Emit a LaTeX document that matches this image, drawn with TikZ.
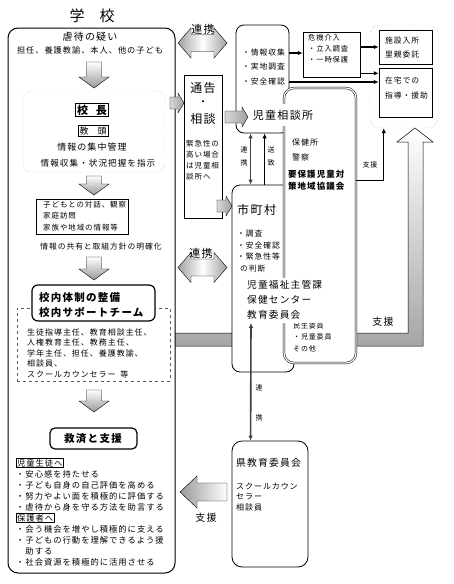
\documentclass[tikz,border=0pt]{standalone}
\usepackage{fontspec}
\setmainfont{Noto Sans CJK JP}[LetterSpace=12]
\usetikzlibrary{arrows.meta,fit}
\newcommand{\fsz}[2]{\fontsize{#1pt}{#2pt}\selectfont}

\tikzset{
  pics/downarr/.style={code={
    \path[draw,line width=0.4pt,top color=white,bottom color=gray!80]
      (-7.5,0) -- (7.5,0) -- (7.5,#1-11) -- (15,#1-11) -- (0,#1)
      -- (-15,#1-11) -- (-7.5,#1-11) -- cycle;}},
  pics/rarr/.style={code={
    \path[draw,line width=0.4pt,left color=gray!30,right color=gray!75]
      (0,-6) -- (#1-6,-6) -- (#1-6,-10) -- (#1,0) -- (#1-6,10)
      -- (#1-6,6) -- (0,6) -- cycle;}},
  pics/dblarr/.style={code={
    \path[draw,line width=0.4pt,left color=gray!75,right color=gray!75,middle color=white]
      (0,0) -- (13,-15) -- (13,-8.5) -- (36,-8.5) -- (36,-15) -- (49,0)
      -- (36,15) -- (36,8.5) -- (13,8.5) -- (13,15) -- cycle;}},
  pics/larr/.style={code={
    \path[draw,line width=0.4pt,left color=gray!80,right color=white]
      (0,0) -- (17,-16) -- (17,-9) -- (47,-9) -- (47,9) -- (17,9)
      -- (17,16) -- cycle;}}
}

\begin{document}
\begin{tikzpicture}[x=1pt,y=-1pt,
  txt/.style={inner sep=0pt,anchor=west,align=left},
  blk/.style={inner sep=0pt,anchor=north west,align=left},
  box/.style={draw,fill=white,inner sep=0pt,line width=0.8pt,rounded corners=8pt},
  sqbox/.style={draw,fill=white,inner sep=0pt,line width=0.5pt},
  dotbox/.style={draw=gray,dotted,inner sep=0pt,rounded corners=8pt},
  dashbox/.style={draw=gray!70!black,dashed,inner sep=0pt,line width=0.4pt},
  tag/.style={draw,inner sep=0.8pt,line width=0.4pt,anchor=west},
  conn/.style={-{Latex[length=5pt,width=4.5pt]},line width=1.1pt},
  link/.style={{Latex[length=5pt,width=4.5pt]}-{Latex[length=5pt,width=4.5pt]},line width=1.6pt,draw=black!75}]
\useasboundingbox (0,0) rectangle (453,584);

% big support arrow behind everything
\path[draw,line width=0.5pt,top color=white,bottom color=gray!70]
  (175,333) -- (408,333) -- (408,142) -- (397,142) -- (415,128) -- (433,142)
  -- (423,142) -- (423,346) -- (175,346);

% school
\node[font=\fsz{15}{15}] (gakko) at (92,16) {学\hspace{1em}校};
\node[box,line width=1pt,rounded corners=10pt,fit={(8,28) (175,573)}] (school) {};
\node[font=\fsz{10}{10}] (utagai) at (90,37) {虐待の疑い};
\node[font=\fsz{8.2}{8}] (tannin) at (90,50) {担任、養護教諭、本人、他の子ども};
\pic at (94,62) {downarr=26};
\node[dotbox,fit={(23,91) (165,172)}] (kanri) {};
\node[draw,inner sep=1.5pt,line width=0.6pt,font=\fsz{11}{11}\bfseries] (kocho) at (92,110) {校\hspace{0.7em}長};
\node[draw,inner sep=1.5pt,line width=0.5pt,font=\fsz{9}{9}] (kyoto) at (93,131) {教\hspace{1em}頭};
\node[font=\fsz{9}{9}] (shuchu) at (92,147) {情報の集中管理};
\node[font=\fsz{8.6}{9}] (shiji) at (98,163) {情報収集・状況把握を指示};
\pic at (94,176) {downarr=19};
\node[sqbox,fit={(36,199) (128,234)}] (taiwa) {};
\node[blk,font=\fsz{7.5}{11.5}] (taiwatxt) at (43,200.5) {子どもとの対話、観察\\家庭訪問\\家族や地域の情報等};
\node[font=\fsz{7.8}{8}] (kyoyu) at (101,247) {情報の共有と取組方針の明確化};
\pic at (94,257) {downarr=23};
\node[dashbox,fit={(17,308) (170,381)}] (team) {};
\node[box,line width=1.2pt,rounded corners=6pt,fit={(32,285) (155,321)}] (taisei) {};
\node[blk,font=\fsz{10.5}{15}\bfseries] (taiseitxt) at (39,292) {校内体制の整備\\校内サポートチーム};
\node[blk,font=\fsz{8}{10.5}] (member) at (27,328.5) {生徒指導主任、教育相談主任、\\人権教育主任、教務主任、\\学年主任、担任、養護教諭、\\相談員、\\スクールカウンセラー\hspace{0.6em}等};
\pic at (94,390) {downarr=22};
\node[box,line width=1.2pt,rounded corners=5pt,fit={(50,428) (137,449)}] (kyusai) {};
\node[font=\fsz{10.5}{10}\bfseries] (kyusaitxt) at (93,438.5) {救済と支援};
\node[tag,font=\fsz{8.3}{8}] (jidoseito) at (16,463) {児童生徒へ};
\node[blk,font=\fsz{8.3}{11.1}] (seitolist) at (16,470.3) {・安心感を持たせる\\・子ども自身の自己評価を高める\\・努力やよい面を積極的に評価する\\・虐待から身を守る方法を助言する};
\node[tag,font=\fsz{8.3}{8}] (hogosha) at (16,518) {保護者へ};
\node[blk,font=\fsz{8.3}{11.1}] (hogolist) at (16,525.3) {・会う機会を増やし積極的に支える\\・子どもの行動を理解できるよう援\\　助する\\・社会資源を積極的に活用させる};

% report / consultation
\node[sqbox,line width=1pt,fit={(184,75) (222,218)}] (tsukoku) {};
\node[font=\fsz{12}{12}] (tsukokutxt) at (203,88) {通告};
\node[font=\fsz{10}{10}] (naka) at (203,103) {・};
\node[font=\fsz{12}{12}] (sodan) at (203,119) {相談};
\node[blk,font=\fsz{7.5}{11.3}] (kinkyu) at (186,139.5) {緊急性の\\高い場合\\は児童相\\談所へ};
\pic at (178,43) {dblarr};
\node[font=\fsz{11}{11}] (renkei1) at (203,29) {連携};
\pic at (178,267.5) {dblarr};
\node[font=\fsz{11}{11}] (renkei2) at (201,253) {連携};

% agencies
\node[box,fit={(236,25) (289,133)}] (jisou) {};
\node[box,fit={(232,185) (294,372)}] (shichoson) {};
\node[box,double,double distance=1.2pt,line width=0.5pt,rounded corners=10pt,fit={(284,88) (356,363)}] (youhogo) {};
\node[box,rounded corners=10pt,fit={(232,441) (308,567)}] (kenkyo) {};
\node[sqbox,fit={(303,32) (360,77)}] (kiki) {};
\node[dotbox,rounded corners=10pt,fit={(370,25) (438,128)}] (shochi) {};
\node[sqbox,fit={(379,30) (432,64)}] (shisetsu) {};
\node[sqbox,fit={(379,68) (432,117)}] (zaitaku) {};

\node[txt,font=\fsz{7.8}{8}] (info1) at (242,53) {・情報収集};
\node[txt,font=\fsz{7.8}{8}] (info2) at (242,67) {・実地調査};
\node[txt,font=\fsz{7.8}{8}] (info3) at (242,82) {・安全確認};
\node[fill=white,inner xsep=1pt,inner ysep=6pt,font=\fsz{11}{11}] (jisoutxt) at (283,115) {児童相談所};
\node[blk,font=\fsz{8}{15}] (hoken) at (292,138.5) {保健所\\警察};
\node[blk,font=\fsz{8.5}{12}\bfseries] (kyogikai) at (288,170) {要保護児童対\\策地域協議会};
\node[blk,font=\fsz{7}{11.5}] (minsei) at (293,322) {民生委員\\・児童委員\\その他};
\node[txt,font=\fsz{12}{12}] (shichosontxt) at (237,210) {市町村};
\node[blk,font=\fsz{7.8}{11.8}] (chosa) at (237,229.5) {・調査\\・安全確認\\・緊急性等\\\hspace{3pt}の判断};
\node[blk,fill=white,inner xsep=1pt,inner ysep=3pt,font=\fsz{9.7}{15}] (kyoiku) at (246,277.5) {児童福祉主管課\\保健センター\\教育委員会};
\node[txt,font=\fsz{9.8}{10}] (kenkyotxt) at (236,463) {県教育委員会};
\node[blk,font=\fsz{8}{10.5}] (sc) at (236,482.5) {スクールカウン\\セラー\\相談員};
\node[blk,font=\fsz{7.3}{11}] (kikitxt) at (308,34.5) {危機介入\\・立入調査\\・一時保護};
\node[blk,font=\fsz{7.8}{14}] (shisetsutxt) at (385,36.5) {施設入所\\里親委託};
\node[blk,font=\fsz{7.8}{15}] (zaitakutxt) at (385,76.5) {在宅での\\指導・援助};

% block arrows
\pic at (170,103) {rarr=14};
\pic at (225,117) {rarr=23};
\pic at (217,206) {rarr=15};
\pic at (180,492) {larr};
\node[font=\fsz{10}{10}] (shien1) at (206,518) {支援};
\node[font=\fsz{10}{10}] (shien3) at (383,322) {支援};

% connectors
\draw[conn] (jisou.east |- info1) -- (kiki.west |- info1);
\draw[conn] (kiki.east |- shisetsu.west) -- (shisetsu.west);
\draw[conn] ([yshift=4pt]kiki.south east) -- ([yshift=4pt]kiki.south east -| zaitaku.west);
\draw[conn] (jisou.east |- info3) -- (zaitaku.west |- info3);
\draw[conn] (youhogo.east |- kyogikai) -| ([xshift=14pt]shochi.south west);
\node[font=\fsz{7}{7}] (shien2) at (370,165) {支援};
\draw[link] ([xshift=15pt]jisou.south west) -- ([xshift=19pt]shichoson.north west);
\draw[conn,line width=0.9pt] ([xshift=33pt]shichoson.north west) -- ([xshift=29pt]jisou.south west);
\node[font=\fsz{7}{7}] (ren1) at (244,150) {連};
\node[font=\fsz{7}{7}] (kei1) at (244,163) {携};
\node[font=\fsz{7}{7}] (so) at (271,150) {送};
\node[font=\fsz{7}{7}] (chi) at (271,163) {致};
\draw[link] ([xshift=5pt]kyoiku.south west) -- ([xshift=19pt]kenkyo.north west);
\node[font=\fsz{7}{7}] (ren3) at (259,388) {連};
\node[font=\fsz{7}{7}] (kei3) at (259,418) {携};
\end{tikzpicture}
\end{document}
